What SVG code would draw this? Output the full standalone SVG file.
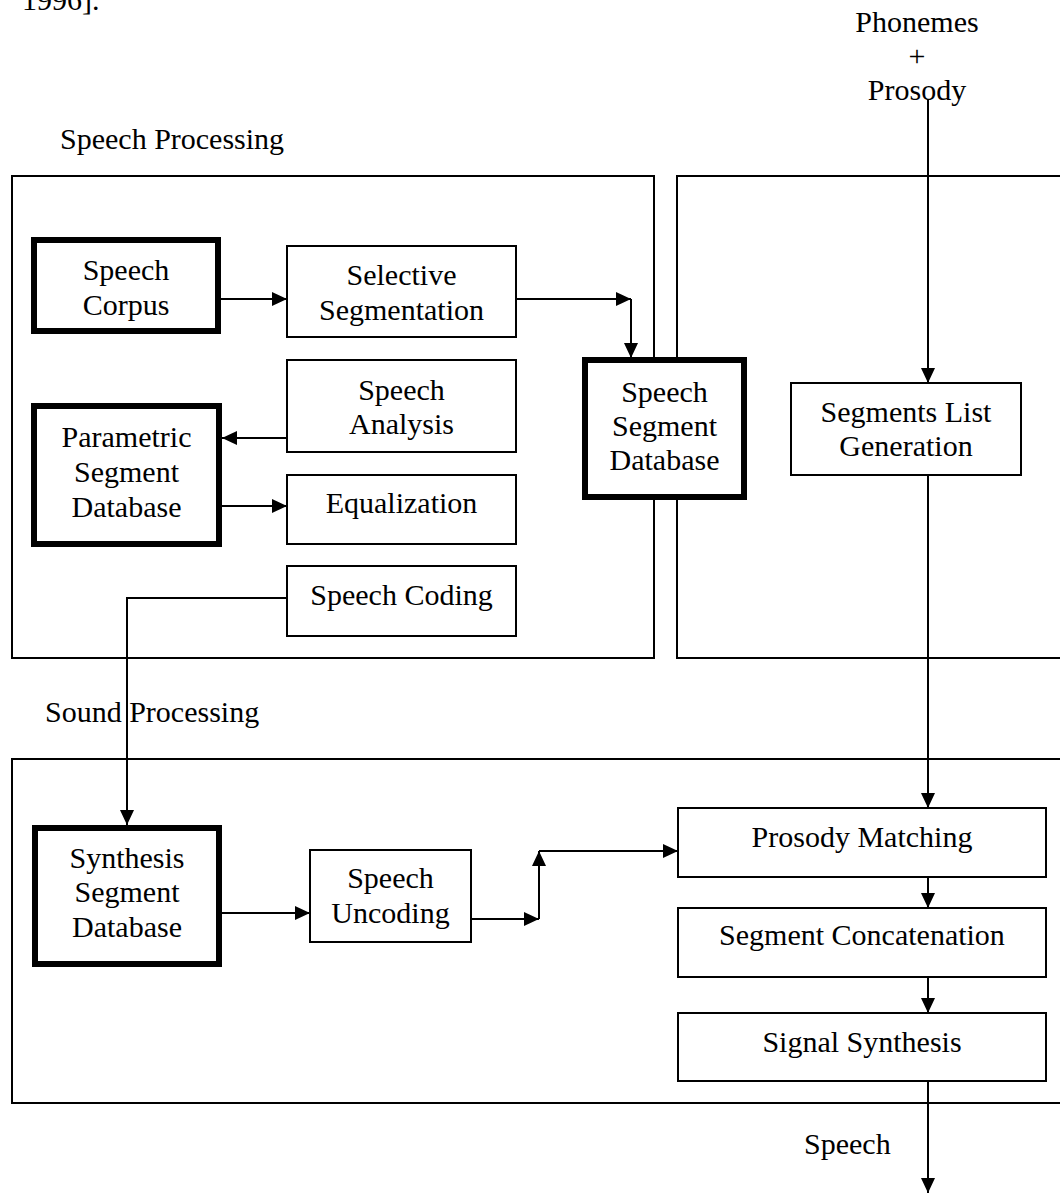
<svg xmlns="http://www.w3.org/2000/svg" width="1060" height="1193" viewBox="0 0 1060 1193">
  <defs>
    <marker id="arrow" markerUnits="userSpaceOnUse" markerWidth="16" markerHeight="14" refX="15" refY="7" orient="auto">
      <path d="M0,0 L15,7 L0,14 z" fill="#000"/>
    </marker>
    <style>
      text { font-family: "Liberation Serif", "Times New Roman", serif; font-size: 30px; fill: #000; }
      .mid { text-anchor: middle; }
      .panel { fill: none; stroke: #000; stroke-width: 2; }
      .box { fill: #fff; stroke: #000; stroke-width: 2; }
      .store { fill: #fff; stroke: #000; stroke-width: 6; }
      .link { fill: none; stroke: #000; stroke-width: 2; }
      .arr { marker-end: url(#arrow); }
    </style>
  </defs>
  <rect width="1060" height="1193" fill="#fff"/>

  <!-- trailing citation text above the figure -->
  <text x="22" y="10">1996].</text>

  <!-- processing areas -->
  <g id="areas">
    <text x="60" y="149">Speech Processing</text>
    <rect class="panel" x="12" y="176" width="642" height="482"/>
    <path class="panel" d="M1064,176 H677 V658 H1064"/>
    <text x="45" y="722">Sound Processing</text>
    <path class="panel" d="M1064,759 H12 V1103 H1064"/>
  </g>

  <!-- connectors -->
  <g id="connectors">
    <line class="link arr" x1="928" y1="100" x2="928" y2="383"/>
    <line class="link arr" x1="220" y1="299" x2="287" y2="299"/>
    <line class="link arr" x1="516" y1="299" x2="631" y2="299"/>
    <line class="link arr" x1="631" y1="299" x2="631" y2="358"/>
    <line class="link arr" x1="287" y1="438" x2="222" y2="438"/>
    <line class="link arr" x1="221" y1="506" x2="287" y2="506"/>
    <polyline class="link arr" points="287,598 127,598 127,825"/>
    <line class="link arr" x1="221" y1="913" x2="310" y2="913"/>
    <line class="link arr" x1="471" y1="919" x2="539" y2="919"/>
    <line class="link arr" x1="539" y1="919" x2="539" y2="851"/>
    <line class="link arr" x1="539" y1="851" x2="678" y2="851"/>
    <line class="link arr" x1="928" y1="475" x2="928" y2="808"/>
    <line class="link arr" x1="928" y1="877" x2="928" y2="908"/>
    <line class="link arr" x1="928" y1="977" x2="928" y2="1013"/>
    <line class="link arr" x1="928" y1="1081" x2="928" y2="1193"/>
  </g>

  <!-- input / output labels -->
  <g id="input-label">
    <text class="mid" x="917" y="32">Phonemes</text>
    <text class="mid" x="917" y="66">+</text>
    <text class="mid" x="917" y="100">Prosody</text>
  </g>
  <g id="output-label">
    <text x="804" y="1154">Speech</text>
  </g>

  <!-- speech processing nodes -->
  <g id="speech-corpus">
    <rect class="store" x="34" y="240" width="184" height="91"/>
    <text class="mid" x="126" y="280">Speech</text>
    <text class="mid" x="126" y="315">Corpus</text>
  </g>
  <g id="selective-segmentation">
    <rect class="box" x="287" y="246" width="229" height="91"/>
    <text class="mid" x="401.5" y="285">Selective</text>
    <text class="mid" x="401.5" y="320">Segmentation</text>
  </g>
  <g id="speech-analysis">
    <rect class="box" x="287" y="360" width="229" height="92"/>
    <text class="mid" x="401.5" y="400">Speech</text>
    <text class="mid" x="401.5" y="434">Analysis</text>
  </g>
  <g id="parametric-segment-database">
    <rect class="store" x="34" y="406" width="185" height="138"/>
    <text class="mid" x="126.5" y="447">Parametric</text>
    <text class="mid" x="126.5" y="482">Segment</text>
    <text class="mid" x="126.5" y="517">Database</text>
  </g>
  <g id="equalization">
    <rect class="box" x="287" y="475" width="229" height="69"/>
    <text class="mid" x="401.5" y="513">Equalization</text>
  </g>
  <g id="speech-coding">
    <rect class="box" x="287" y="566" width="229" height="70"/>
    <text class="mid" x="401.5" y="605">Speech Coding</text>
  </g>
  <g id="speech-segment-database">
    <rect class="store" x="585" y="360" width="159" height="137"/>
    <text class="mid" x="664.5" y="402">Speech</text>
    <text class="mid" x="664.5" y="436">Segment</text>
    <text class="mid" x="664.5" y="470">Database</text>
  </g>
  <g id="segments-list-generation">
    <rect class="box" x="791" y="383" width="230" height="92"/>
    <text class="mid" x="906" y="422">Segments List</text>
    <text class="mid" x="906" y="456">Generation</text>
  </g>

  <!-- sound processing nodes -->
  <g id="synthesis-segment-database">
    <rect class="store" x="35" y="828" width="184" height="136"/>
    <text class="mid" x="127" y="868">Synthesis</text>
    <text class="mid" x="127" y="902">Segment</text>
    <text class="mid" x="127" y="937">Database</text>
  </g>
  <g id="speech-uncoding">
    <rect class="box" x="310" y="850" width="161" height="92"/>
    <text class="mid" x="390.5" y="888">Speech</text>
    <text class="mid" x="390.5" y="923">Uncoding</text>
  </g>
  <g id="prosody-matching">
    <rect class="box" x="678" y="808" width="368" height="69"/>
    <text class="mid" x="862" y="847">Prosody Matching</text>
  </g>
  <g id="segment-concatenation">
    <rect class="box" x="678" y="908" width="368" height="69"/>
    <text class="mid" x="862" y="945">Segment Concatenation</text>
  </g>
  <g id="signal-synthesis">
    <rect class="box" x="678" y="1013" width="368" height="68"/>
    <text class="mid" x="862" y="1052">Signal Synthesis</text>
  </g>
</svg>
